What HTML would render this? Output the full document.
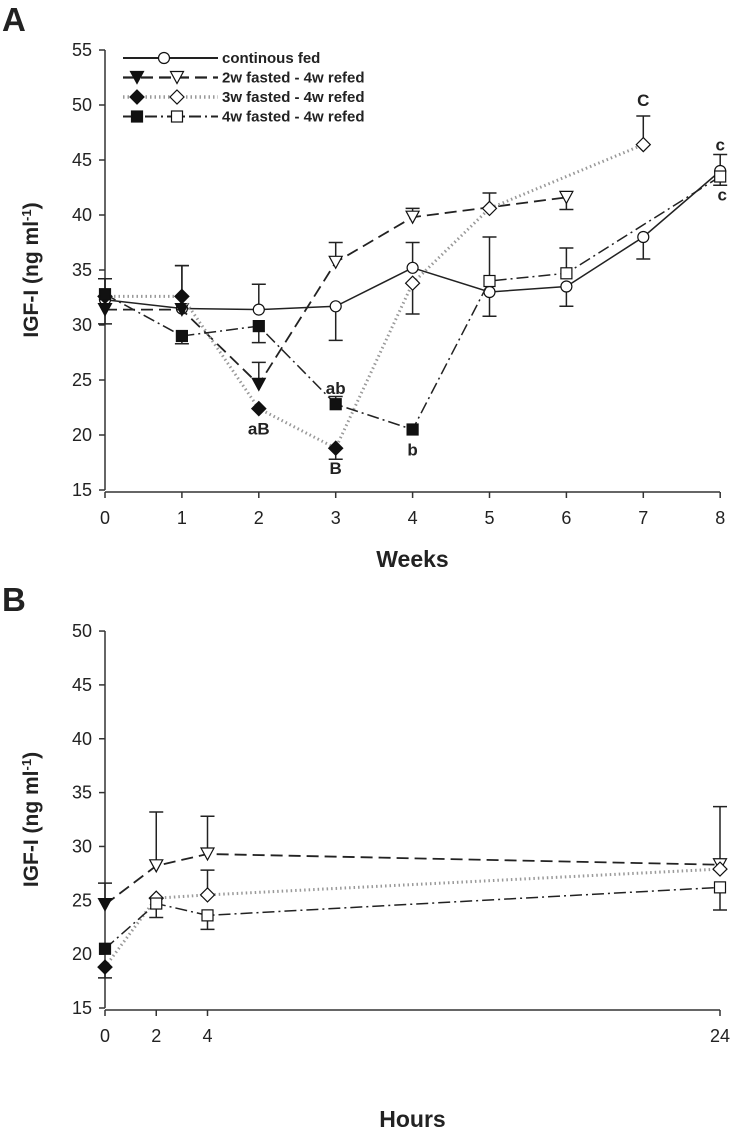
<!DOCTYPE html>
<html><head><meta charset="utf-8"><style>
body{margin:0;background:#fff;}
svg{display:block;font-family:"Liberation Sans",Arial,sans-serif;}
</style></head><body>
<svg id="c" width="730" height="1131" viewBox="0 0 730 1131"></svg>
<script>
// ---------- data ----------
const weeks = [0,1,2,3,4,5,6,7,8];
const fedA = [32.3,31.5,31.4,31.7,35.2,33.0,33.5,38.0,44.0];
const fedAErr = [1.9,3.9,2.3,-3.1,2.3,-2.2,-1.8,-2.0,1.5];
const w2A = [31.4,31.4,24.6,35.7,39.8,null,41.6,null,null];
const w2AErr = [-1.3,0,2.0,1.8,0.8,0,-1.1,0,0];
const w3A = [32.6,32.6,22.4,18.8,33.8,40.6,null,46.4,null];
const w3AErr = [0,2.8,0,-1.0,-2.8,1.4,0,2.6,0];
const w4A = [32.8,29.0,29.9,22.8,20.5,34.0,34.7,null,43.5];
const w4AErr = [1.4,-0.7,-1.5,0.7,0,4.0,2.3,0,-0.8];
const fastedWeeks = [[0,1,2],[0,1,2,3],[0,1,2,3,4]];
const hours = [0,2,4,24];
const w2B = [24.6,28.2,29.3,28.3];
const w2BErr = [2.0,5.0,3.5,5.4];
const w3B = [18.8,25.2,25.5,27.9];
const w3BErr = [-1.0,0,2.3,0];
const w4B = [20.5,24.7,23.6,26.2];
const w4BErr = [0,-1.3,-1.3,-2.1];
const yTicksA = [15,20,25,30,35,40,45,50,55];
const yTicksB = [15,20,25,30,35,40,45,50];
const letters = [[2,22.4,'aB',1],[3,22.8,'ab',-1],[3,18.8,'B',1],[4,20.5,'b',1],[7,49.0,'C',-1]];

// ---------- scales ----------
const xA = w => 105 + w*76.9;
const yA = v => 490 - (v-15)*11;
const xB = h => 105 + h*25.625;
const yB = v => 1008 - (v-15)*10.77;

const NS='http://www.w3.org/2000/svg';
const svg=document.getElementById('c');
function mk(tag,attrs,parent){const e=document.createElementNS(NS,tag);for(const k in attrs)e.setAttribute(k,attrs[k]);(parent||svg).appendChild(e);return e;}
function txt(x,y,s,size,anchor,parent,extra){const t=mk('text',Object.assign({x:x,y:y,'font-size':size,'font-weight':'bold','text-anchor':anchor||'middle',fill:'#222'},extra||{}),parent);t.textContent=s;return t;}

const styles={
 fed:{dash:'',color:'#222',w:1.5},
 w2:{dash:'12,6',color:'#222',w:1.8},
 w3:{dash:'1.5,3',color:'#999',w:3},
 w4:{dash:'12,4,2,4',color:'#222',w:1.5}
};

function marker(type,cx,cy,filled,parent){
  const f=filled?'#111':'#fff';
  const a={fill:f,stroke:'#111','stroke-width':1.2};
  if(type==='circle') return mk('circle',Object.assign({cx:cx,cy:cy,r:5.5},a),parent);
  if(type==='tri') return mk('polygon',Object.assign({points:`${cx-6.5},${cy-6} ${cx+6.5},${cy-6} ${cx},${cy+6}`},a),parent);
  if(type==='dia') return mk('polygon',Object.assign({points:`${cx},${cy-7} ${cx+7},${cy} ${cx},${cy+7} ${cx-7},${cy}`},a),parent);
  return mk('rect',Object.assign({x:cx-5.5,y:cy-5.5,width:11,height:11},a),parent);
}

function series(name,xs,vals,errs,xf,yf,type,st,filledIdx){
  const g=mk('g',{});
  
  
  let pts=[];
  xs.forEach((x,i)=>{if(vals[i]!=null)pts.push([xf(x),yf(vals[i])]);});
  const p=mk('polyline',{points:pts.map(p=>p.join(',')).join(' '),fill:'none',stroke:st.color,'stroke-width':st.w,'stroke-dasharray':st.dash},g);
  
  
  xs.forEach((x,i)=>{
    if(vals[i]==null)return;
    const cx=xf(x),cy=yf(vals[i]);
    const e=errs[i];
    if(e){const ey=yf(vals[i]+e);
      const l=mk('path',{d:`M${cx},${cy} L${cx},${ey} M${cx-7},${ey} L${cx+7},${ey}`,stroke:'#222','stroke-width':1.5,fill:'none'},g);
      
      }
  });
  xs.forEach((x,i)=>{
    if(vals[i]==null)return;
    const m=marker(type,xf(x),yf(vals[i]),filledIdx.includes(i),g);
    
    
  });
}

function axes(id,yTicks,xTicks,xf,yf,x0,x1,xTitle,baseY,titleY){
  const g=mk('g',{});
  
  
  const yTop=yf(yTicks[yTicks.length-1]), yBot=yf(yTicks[0]);
  mk('line',{x1:105,y1:yTop,x2:105,y2:yBot,stroke:'#333','stroke-width':1.5},g);
  yTicks.forEach(t=>{mk('line',{x1:99,y1:yf(t),x2:105,y2:yf(t),stroke:'#333','stroke-width':1.5},g);
    txt(92,yf(t)+6,String(t),18,'end',g,{'font-weight':'normal'});});
  mk('line',{x1:x0,y1:baseY,x2:x1,y2:baseY,stroke:'#333','stroke-width':1.5},g);
  xTicks.forEach(t=>{mk('line',{x1:xf(t),y1:baseY,x2:xf(t),y2:baseY+6,stroke:'#333','stroke-width':1.5},g);
    txt(xf(t),baseY+32,String(t),18,'middle',g,{'font-weight':'normal'});});
  const xt=txt((x0+x1)/2,titleY,xTitle,23,'middle',g);
  
  
  const cy=(yTop+yBot)/2;
  const yt=mk('text',{x:0,y:0,'font-size':21,'font-weight':'bold','text-anchor':'middle',fill:'#222',transform:`translate(38,${cy}) rotate(-90)`},g);
  yt.innerHTML='IGF-I (ng ml<tspan baseline-shift="super" font-size="13">-1</tspan>)';
  
  
}

// panel A
axes('panel-a',yTicksA,weeks,xA,yA,105,720,'Weeks',492,567);
series('continuously-fed',weeks,fedA,fedAErr,xA,yA,'circle',styles.fed,[]);
series('fasted-2w',weeks,w2A,w2AErr,xA,yA,'tri',styles.w2,fastedWeeks[0]);
series('fasted-3w',weeks,w3A,w3AErr,xA,yA,'dia',styles.w3,fastedWeeks[1]);
series('fasted-4w',weeks,w4A,w4AErr,xA,yA,'sq',styles.w4,fastedWeeks[2]);
letters.forEach(L=>{const y=L[3]>0?yA(L[1])+26:yA(L[1])-10;
  const t=txt(xA(L[0]),y,L[2],17,'middle');
  
  });
{let t=txt(xA(8),yA(45.5)-4,'c',17,'middle');
 t=txt(xA(8)+2,yA(43.5)+24,'c',17,'middle');}

// panel B
axes('panel-b',yTicksB,hours,xB,yB,105,720,'Hours',1010,1127);
series('fasted-2w-hours',hours,w2B,w2BErr,xB,yB,'tri',styles.w2,[0]);
series('fasted-3w-hours',hours,w3B,w3BErr,xB,yB,'dia',styles.w3,[0]);
series('fasted-4w-hours',hours,w4B,w4BErr,xB,yB,'sq',styles.w4,[0]);

// panel letters
{let t=txt(2,31,'A',33,'start');
 t=txt(2,611,'B',33,'start');}

// legend
const legend=mk('g',{});


const legItems=[['continous fed','circle',styles.fed,false],['2w fasted - 4w refed','tri',styles.w2,true],['3w fasted - 4w refed','dia',styles.w3,true],['4w fasted - 4w refed','sq',styles.w4,true]];
legItems.forEach((it,i)=>{
  const y=58+i*19.5;
  const g=mk('g',{},legend);
  
  
  mk('line',{x1:123,y1:y,x2:218,y2:y,stroke:it[2].color,'stroke-width':it[2].w+0.5,'stroke-dasharray':it[2].dash},g);
  if(it[3]){marker(it[1],137,y,true,g);marker(it[1],177,y,false,g);}
  else marker(it[1],164,y,false,g);
  txt(222,y+5,it[0],15,'start',g);
});
</script>
</body></html>
